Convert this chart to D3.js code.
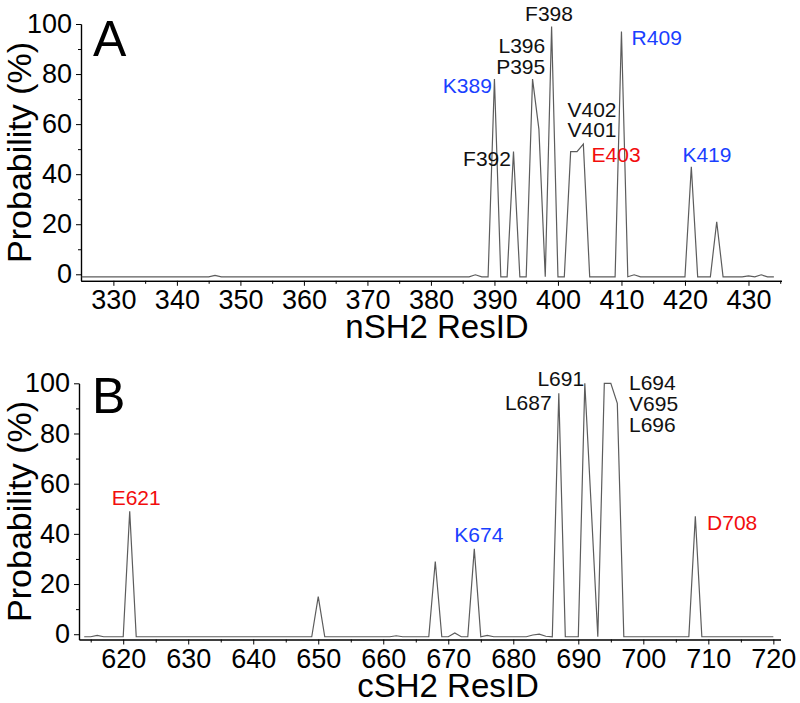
<!DOCTYPE html>
<html>
<head>
<meta charset="utf-8">
<script src="https://cdn.jsdelivr.net/npm/d3@7"></script>
<style>
body{margin:0;background:#fff;}
svg text{font-family:"Liberation Sans",Arial,sans-serif;}
</style>
</head>
<body>
<script>
// nSH2 contact probability (%), one value per residue from 325 to 434
var startA = 325;
var probA = [
	-1,-1,-1,-1,-1,-1,-1,-1,-1,-1,
	-1,-1,-1,-1,-1,-1,-1,-1,-1,-1,
	-1,-0.4,-1,-1,-1,-1,-1,-1,-1,-1,
	-1,-1,-1,-1,-1,-1,-1,-1,-1,-1,
	-1,-1,-1,-1,-1,-1,-1,-1,-1,-1,
	-1,-1,-1,-1,-1,-1,-1,-1,-1,-1,
	-1,-1,-0.2,-1,-1,78,-1,-1,49,-1,
	-1,78,58,-1,99,-1,-1,49,49,52,
	-1,-1,-1,-1,-1,97,-1,-0.2,-1,-1,
	-1,-1,-1,-1,-1,-1,43,-1,-1,-1,
	21,-1,-1,-1,-1,-0.6,-1,-0.2,-1,-1
];
// cSH2 contact probability (%), residues 614 to 720
var startB = 614;
var probB = [
	-1,-1,-0.5,-1,-1,-1,-1,49,-1,-1,
	-1,-1,-1,-1,-1,-1,-1,-1,-1,-1,
	-1,-1,-1,-1,-1,-1,-1,-1,-1,-1,
	-1,-1,-1,-1,-1,-1,15,-1,-1,-1,
	-1,-1,-1,-1,-1,-1,-1,-1,-0.6,-1,
	-1,-1,-1,-1,29,-1,-1,0.5,-1,-1,
	34,-1,-0.5,-1,-1,-1,-1,-1,-1,-0.3,
	0,-0.8,-1,96,-1,-1,-1,100,50,-1,
	100,100,92,-1,-1,-1,-1,-1,-1,-1,
	-1,-1,-1,-1,47,-1,-1,-1,-1,-1,
	-1,-1,-1,-1,-1,-1,-1
];

var xTicksA = [330,340,350,360,370,380,390,400,410,420,430];
var xMinorA = [335,345,355,365,375,385,395,405,415,425,435];
var xTicksB = [620,630,640,650,660,670,680,690,700,710,720];
var xMinorB = [615,625,635,645,655,665,675,685,695,705,715];
var yTicks = [0,20,40,60,80,100];
var yMinor = [10,30,50,70,90];

// residue labels: text, residue, probability where the label sits, kind
var labelsA = [
	["F398",398.6,101.2,"k"],["L396",398.0,88.4,"k"],["P395",398.0,80.0,"k"],
	["K389",389.6,72.6,"b"],["F392",392.6,43.4,"k"],
	["V402",401.5,63.0,"k"],["V401",401.5,55.0,"k"],["E403",405.3,44.7,"r"],
	["R409",411.6,91.6,"b"],["K419",419.6,44.7,"b"]
];
var labelsB = [
	["E621",622.0,51.5,"r"],["K674",674.7,36.7,"b"],
	["L687",685.9,89.4,"k"],["L691",690.9,98.9,"k"],
	["L694",697.8,97.3,"k"],["V695",697.8,89.1,"k"],["L696",697.8,80.7,"k"],
	["D708",709.8,41.6,"r"]
];

(function(){
	var W = 800, H = 703;
	var colors = {k:"#111", b:"#1a3fff", r:"#f20d0d"};
	var svg = d3.select("body").append("svg").attr("width", W).attr("height", H);

	var panels = [
		{tag:"A", start:startA, prob:probA, labels:labelsA, ticks:xTicksA, minor:xMinorA,
		 xDom:[324.9,435.2], xR:[81,781.5], yDom:[-2.6,100], yR:[280.8,24], pad:4,
		 title:"nSH2 ResID", titleX:437, titleY:338, letterX:93, letterY:56},
		{tag:"B", start:startB, prob:probB, labels:labelsB, ticks:xTicksB, minor:xMinorB,
		 xDom:[613.2,721.1], xR:[79,780.5], yDom:[-2.1,100], yR:[639.5,383.3], pad:4,
		 title:"cSH2 ResID", titleX:448, titleY:697, letterX:92, letterY:413}
	];

	function labelAnchor(d){
		var mid = ["F398","E621","K674"], end = ["L396","P395","K389","F392","L687","L691"];
		if (mid.indexOf(d[0]) > -1) return "middle";
		if (end.indexOf(d[0]) > -1) return "end";
		return "start";
	}

	panels.forEach(function(p){
		var x = d3.scaleLinear().domain(p.xDom).range(p.xR),
			y = d3.scaleLinear().domain(p.yDom).range(p.yR),
			g = svg.append("g");

		var pts = p.prob.map(function(v, i){ return [p.start + i, v]; });

		// axes
		var gx = g.append("g").attr("transform", "translate(0," + p.yR[0] + ")");
		gx.call(d3.axisBottom(x).tickValues(p.minor).tickSize(3).tickSizeOuter(0).tickFormat(""));
		gx.append("g").call(d3.axisBottom(x).tickValues(p.ticks).tickSize(5).tickSizeOuter(0).tickPadding(p.pad));
		var gy = g.append("g").attr("transform", "translate(" + p.xR[0] + ",0)");
		gy.call(d3.axisLeft(y).tickValues(yMinor).tickSize(3).tickSizeOuter(0).tickFormat(""));
		gy.append("g").call(d3.axisLeft(y).tickValues(yTicks).tickSize(5).tickSizeOuter(0).tickPadding(4));
		g.selectAll(".domain").attr("stroke", "#000").attr("stroke-width", 1.2);
		g.selectAll(".tick line").attr("stroke", "#000").attr("stroke-width", 1);
		g.selectAll(".tick text").attr("font-size", 27).attr("fill", "#000")
			.attr("font-family", "Liberation Sans, Arial, sans-serif");

		// probability trace
		g.append("path")
			.datum(pts)
			.attr("fill", "none")
			.attr("stroke", "#5c5c5c")
			.attr("stroke-width", 1.2)
			.attr("d", d3.line().x(function(d){ return x(d[0]); }).y(function(d){ return y(d[1]); }));

		// residue labels
		g.selectAll(".lab").data(p.labels).enter().append("text")
			.attr("class", "lab")
			.attr("x", function(d){ return x(d[1]); })
			.attr("y", function(d){ return y(d[2]); })
			.attr("text-anchor", labelAnchor)
			.attr("font-size", 21)
			.attr("fill", function(d){ return colors[d[3]]; })
			.text(function(d){ return d[0]; });

		// titles
		g.append("text")
			.attr("transform", "translate(31," + ((p.yR[0] + p.yR[1]) / 2) + ") rotate(-90)")
			.attr("text-anchor", "middle")
			.attr("font-size", 34)
			.text("Probability (%)");
		g.append("text")
			.attr("x", p.titleX).attr("y", p.titleY)
			.attr("text-anchor", "middle")
			.attr("font-size", 33)
			.text(p.title);
		g.append("text")
			.attr("x", p.letterX).attr("y", p.letterY)
			.attr("font-size", 50)
			.text(p.tag);
	});
})();
</script>
</body>
</html>
